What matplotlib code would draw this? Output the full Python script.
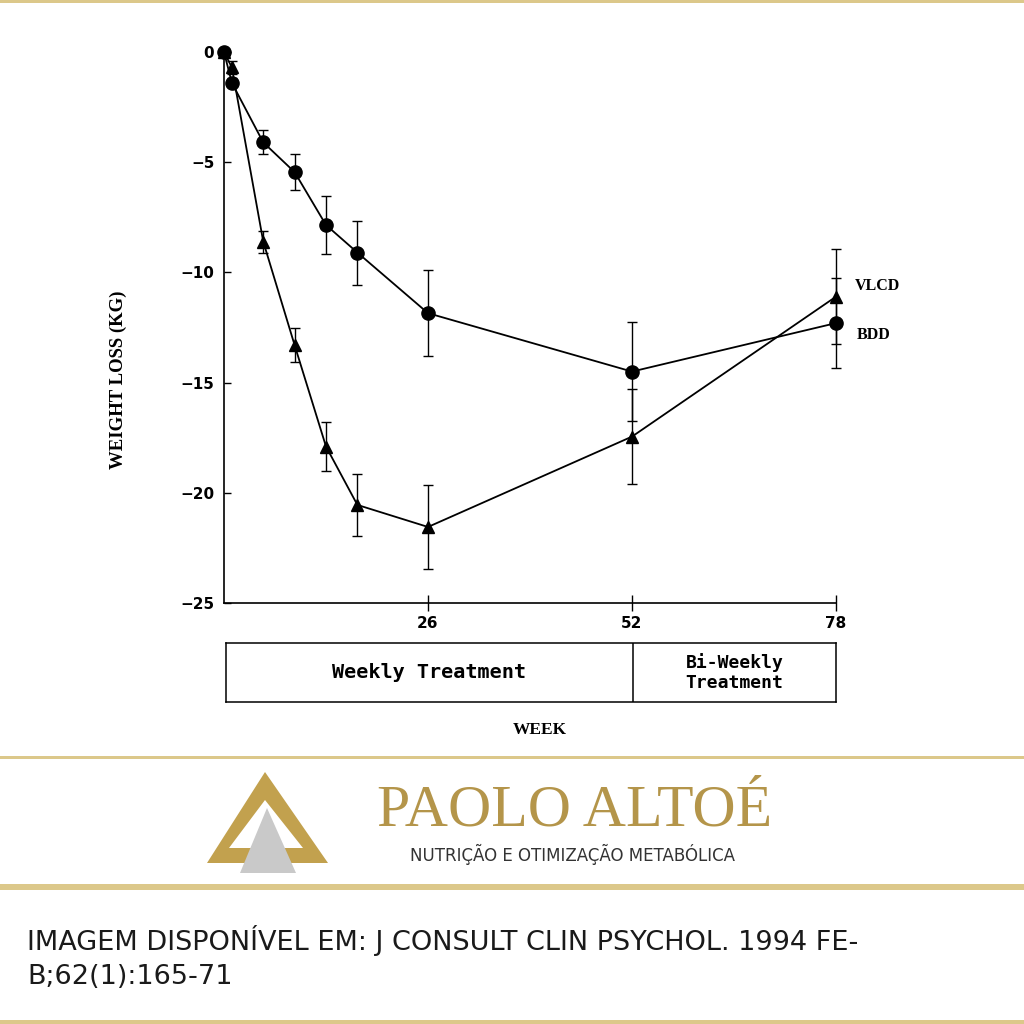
import numpy as np
import matplotlib.pyplot as plt
from matplotlib.patches import Polygon, Rectangle

# weight change (kg)
weeks = [0, 1, 5, 9, 13, 17, 26, 52, 78]
bdd = [0, -1.4, -4.1, -5.45, -7.85, -9.1, -11.85, -14.5, -12.3]
bdd_err = [0, 0.2, 0.55, 0.8, 1.3, 1.45, 1.95, 2.25, 2.05]
vlcd = [0, -0.7, -8.6, -13.3, -17.9, -20.55, -21.55, -17.45, -11.1]
vlcd_err = [0, 0.3, 0.5, 0.77, 1.1, 1.4, 1.9, 2.15, 2.15]

yticks = [0, -5, -10, -15, -20, -25]
ytick_labels = ['0', '\u22125', '\u221210', '\u221215', '\u221220', '\u221225']
xticks = [26, 52, 78]
xtick_labels = ['26', '52', '78']

gold = '#dcc88a'
W = 1024

fig = plt.figure(figsize=(10.24, 10.24), dpi=100)
fig.patch.set_facecolor('white')

# background layer in pixel coordinates for the page decoration
deco = fig.add_axes([0, 0, 1, 1])
deco.set_xlim(0, W)
deco.set_ylim(W, 0)
deco.axis('off')
for y, h in [(0, 3), (756, 3), (884, 6), (1020, 4)]:
    deco.add_patch(Rectangle((0, y), W, h, color=gold, lw=0))

# main chart
ax = fig.add_axes([224 / W, 1 - 603 / W, 612 / W, 551 / W])
ax.patch.set_alpha(0)
for vals, err, mk, ms in [(bdd, bdd_err, 'o', 9.5), (vlcd, vlcd_err, '^', 8)]:
    cont = ax.errorbar(weeks, vals, yerr=err, color='black', marker=mk, ms=ms,
                       lw=1.3, elinewidth=1, capsize=3.8, capthick=1)
    for a in cont.get_children():
        a.set_clip_on(False)

ax.set_xlim(0, 78)
ax.set_ylim(-25, 0)
ax.spines['top'].set_visible(False)
ax.spines['right'].set_visible(False)
ax.spines['left'].set_linewidth(1.2)
ax.spines['bottom'].set_linewidth(1.2)

ax.set_yticks(yticks)
ax.set_yticklabels(ytick_labels, fontweight='bold', fontsize=11, family='DejaVu Sans')
ax.tick_params(axis='y', direction='in', length=5, width=1, pad=7)
ax.set_xticks(xticks)
ax.set_xticklabels(xtick_labels, fontweight='bold', fontsize=11, family='DejaVu Sans')
ax.tick_params(axis='x', direction='inout', length=12, width=1, pad=3)

ax.text(80.4, -10.6, 'VLCD', fontsize=11.5, fontweight='bold', family='Liberation Serif',
        va='center', ha='left', clip_on=False)
ax.text(80.6, -12.85, 'BDD', fontsize=11.5, fontweight='bold', family='Liberation Serif',
        va='center', ha='left', clip_on=False)

fig.text(118 / W, 1 - 380 / W, 'WEIGHT LOSS (KG)', rotation=90, ha='center', va='center',
         fontsize=13.5, fontweight='bold', family='Liberation Serif')

# treatment box under the axis
bx = fig.add_axes([226 / W, 1 - 702 / W, 610 / W, 59 / W])
bx.set_xlim(0, 78)
bx.set_ylim(0, 1)
bx.set_xticks([])
bx.set_yticks([])
for s in bx.spines.values():
    s.set_linewidth(1.1)
bx.axvline(52, color='black', lw=1.1)
bx.text(26, 0.5, 'Weekly Treatment', ha='center', va='center', fontsize=14.5,
        fontweight='bold', family='DejaVu Sans Mono')
bx.text(65, 0.5, 'Bi-Weekly\nTreatment', ha='center', va='center', fontsize=13,
        fontweight='bold', family='DejaVu Sans Mono', linespacing=1.15)

fig.text(540 / W, 1 - 730 / W, 'WEEK', ha='center', va='center', fontsize=12.5,
         fontweight='bold', family='Liberation Serif')

# logo
deco.add_patch(Polygon([(207, 863), (265, 772), (328, 863)], closed=True, color='#c2a14e', lw=0))
deco.add_patch(Polygon([(229, 848), (265, 800), (303, 848)], closed=True, color='white', lw=0))
deco.add_patch(Polygon([(240, 873), (267, 808), (296, 873)], closed=True, color='#c9c9c9', lw=0))
deco.text(575, 812, 'PAOLO ALTOÉ', ha='center', va='center', fontsize=43,
          family='Liberation Serif', color='#b4954a')
deco.text(573, 854, 'NUTRIÇÃO E OTIMIZAÇÃO METABÓLICA', ha='center', va='center',
          fontsize=12, family='DejaVu Sans', color='#333333')

# citation
deco.text(27, 940, 'imagem disponível em: J Consult Clin Psychol. 1994 Fe-'.upper(),
          ha='left', va='center', fontsize=19.5, family='DejaVu Sans', color='#1a1a1a')
deco.text(27, 977, 'b;62(1):165-71'.upper(), ha='left', va='center', fontsize=19.5,
          family='DejaVu Sans', color='#1a1a1a')

fig.savefig('out.png', dpi=100, facecolor='white')
